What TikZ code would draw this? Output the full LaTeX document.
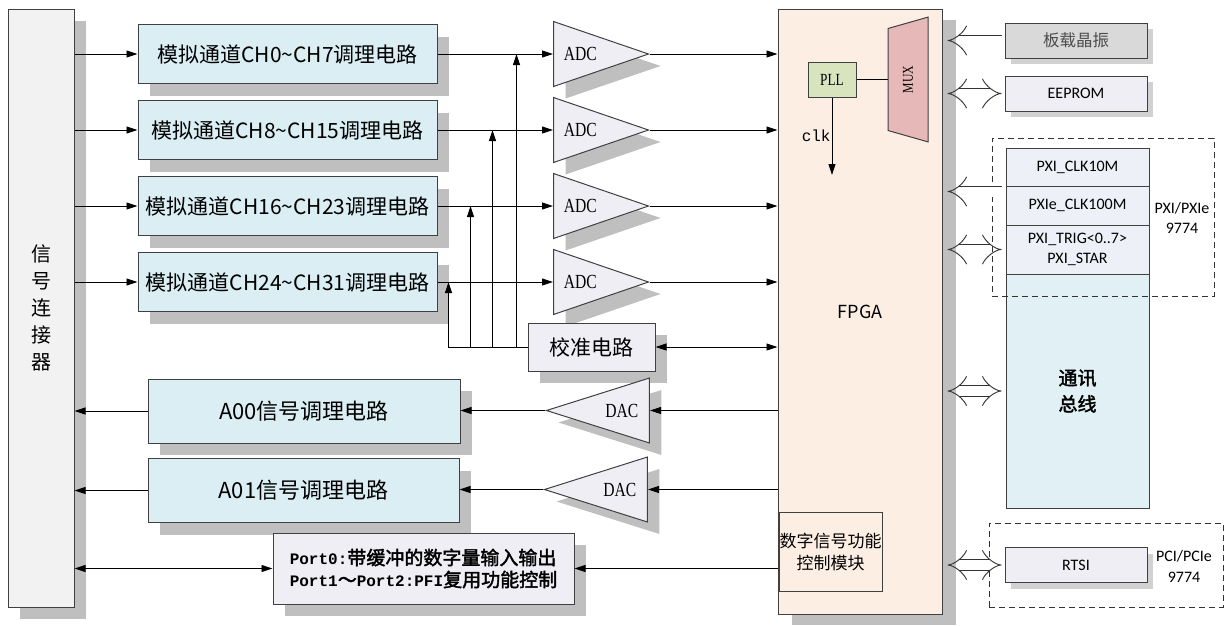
\documentclass[tikz,border=0pt]{standalone}
\usepackage{fontspec}
\setmainfont{Liberation Serif}
\newfontfamily\cjk{Noto Sans CJK SC}
\newfontfamily\cjkb[FakeBold=2]{Noto Sans CJK SC}
\newfontfamily\narrowserif[FakeStretch=0.78]{Liberation Serif}
\newfontfamily\calib{Carlito}
\newfontfamily\mono{Liberation Mono}
\usetikzlibrary{arrows.meta,shapes.geometric,shadows,positioning}
\definecolor{chblue}{HTML}{DAEEF3}
\definecolor{connfill}{HTML}{F2F2F2}
\definecolor{lav}{HTML}{F0EEF5}
\definecolor{fpgafill}{HTML}{FDEEE4}
\definecolor{pllfill}{HTML}{D7E4BD}
\definecolor{muxfill}{HTML}{E6B9B8}
\definecolor{oscfill}{HTML}{D9D9D9}
\definecolor{pxifill}{HTML}{EDF1F7}
\definecolor{busfill}{HTML}{E1F0F4}
\newcommand\fsz[1]{\fontsize{#1}{#1}\selectfont}

\begin{document}
\begin{tikzpicture}[
    x=1pt, y=-1pt,
    line width=0.9pt,
    >={Triangle[length=11pt,width=7pt]},
    block/.style={rectangle, draw=black!75, line width=1pt, inner sep=2pt, align=center},
    shad/.style={drop shadow={shadow xshift=12pt, shadow yshift=-12pt, fill=black!25, opacity=1}},
    smallshad/.style={drop shadow={shadow xshift=6pt, shadow yshift=-6pt, fill=black!18, opacity=1}},
    chan/.style={block, shad, fill=chblue, minimum width=299pt, minimum height=59pt, font=\cjk\fsz{21}},
    aout/.style={block, shad, fill=chblue, minimum height=64pt, font=\cjk\fsz{22}},
    conv/.style={isosceles triangle, isosceles triangle stretches, draw=black!75, line width=1pt,
      fill=lav, shad, minimum width=65pt, minimum height=95pt, inner sep=0pt, font=\narrowserif\fsz{20}},
    side/.style={block, minimum width=142pt, minimum height=35pt, font=\calib\fsz{16}},
    pxi/.style={block, fill=pxifill, minimum width=143pt, font=\calib\fontsize{16}{20}\selectfont},
    grp/.style={draw=black!80, dash pattern=on 6pt off 4pt, line width=0.9pt},
    hollow/.style={double, double distance=10pt, line width=0.9pt, draw=black!80}
  ]
  \useasboundingbox (0,0) rectangle (1224,625);

  % left side
  \node[block, shad, fill=connfill, minimum width=66pt, minimum height=598pt,
    font=\cjk\fontsize{20}{27}\selectfont] (conn) at (41,308) {信\\号\\连\\接\\器};
  \foreach \i/\y/\t in {1/54/CH0\textasciitilde CH7, 2/130/CH8\textasciitilde CH15,
      3/206/CH16\textasciitilde CH23, 4/282/CH24\textasciitilde CH31} {
    \node[chan] (ch\i) at (287.5,\y) {模拟通道\t 调理电路};
    \node[conv, anchor=west] (adc\i) at (553,\y) {ADC};
  }
  \node[block, shad, fill=lav, minimum width=127pt, minimum height=48pt, font=\cjk\fsz{21}] (cal) at (591.5,347) {校准电路};
  \node[aout, minimum width=312pt] (ao0) at (304,411) {A00信号调理电路};
  \node[aout, minimum width=311pt] (ao1) at (303.5,490.5) {A01信号调理电路};
  \node[conv, shape border rotate=180, minimum height=103pt, anchor=east] (dac1) at (650,410.5) {DAC};
  \node[conv, shape border rotate=180, minimum height=103pt, anchor=east] (dac2) at (648,489.5) {DAC};
  \node[block, shad, fill=lav, minimum width=301pt, minimum height=71pt, align=left,
    font=\fontsize{19}{22}\selectfont] (port) at (423.5,568.5)
    {{\mono\bfseries\fsz{16}Port0:}{\cjkb 带缓冲的数字量输入输出}\\
     {\mono\bfseries\fsz{16}Port1}{\cjkb ～}{\mono\bfseries\fsz{16}Port2:PFI}{\cjkb 复用功能控制}};

  % FPGA
  \node[block, fill=fpgafill, minimum width=164pt, minimum height=605pt, font=\cjk\fsz{18},
    drop shadow={shadow xshift=14pt, shadow yshift=-11pt, fill=black!25, opacity=1}] (fpga) at (860,311.5) {FPGA};
  \node[block, fill=pllfill, minimum width=48pt, minimum height=35pt, font=\narrowserif\fsz{17}] (pll) at (832,79.5) {PLL};
  \node[trapezium, trapezium stretches=true, draw=black!75, line width=1pt, fill=muxfill, rotate=90,
    minimum width=125pt, minimum height=40pt, trapezium left angle=73, trapezium right angle=73,
    inner sep=0pt, font=\narrowserif\fsz{15}] (mux) at (908,79.5) {MUX};
  \node[block, fill=fpgafill, inner sep=0pt, minimum width=103pt, minimum height=79pt,
    font=\cjk\fontsize{17}{22}\selectfont] (digctl) at (830.5,551.5) {数字信号功能\\控制模块};
  \coordinate (clkend) at (832,175);

  % right side
  \node[side, smallshad, fill=oscfill, font=\cjk\fsz{16.5}, text=black!70] (osc) at (1076,40.5) {板载晶振};
  \node[side, smallshad, fill=lav] (eeprom) at (1076,93.5) {EEPROM};
  \node[pxi, minimum height=38pt] (pxi1) at (1077.5,167) {PXI\_CLK10M};
  \node[pxi, minimum height=39pt] (pxi2) at (1077.5,205.5) {PXIe\_CLK100M};
  \node[pxi, minimum height=49pt] (pxi3) at (1077.5,249.5) {PXI\_TRIG\textless 0..7\textgreater\\PXI\_STAR};
  \node[block, fill=busfill, minimum width=143pt, minimum height=234pt,
    font=\cjkb\fontsize{19}{26}\selectfont] (bus) at (1077.5,391) {通讯\\总线};
  \node[grp, minimum width=222pt, minimum height=158pt] (grp1) at (1103,217) {};
  \node[font=\calib\fontsize{16}{20}\selectfont, align=center] (pxil) at (1182,218) {PXI/PXIe\\9774};
  \node[side, smallshad, fill=lav] (rtsi) at (1076,565) {RTSI};
  \node[grp, minimum width=234pt, minimum height=84pt] (grp2) at (1106,565) {};
  \node[font=\calib\fontsize{16}{21}\selectfont, align=center] (pcil) at (1184,566) {PCI/PCIe\\9774};
  \coordinate (clkin) at ([xshift=-4pt,yshift=-5pt]pxi1.south west);

  % analog inputs
  \foreach \i in {1,...,4} {
    \draw[->] (conn.east |- ch\i.west) -- (ch\i.west);
    \draw[->] (ch\i.east) -- (ch\i.east -| adc\i.west);
    \draw[->] (adc\i.apex) -- (adc\i.apex -| fpga.west);
  }
  \foreach \i/\d in {1/79,2/55,3/33,4/11}
    \draw[->] (cal.west) -| ([xshift=\d pt]ch\i.east);
  \draw[<->] (cal.east) -- (cal.east -| fpga.west);

  % analog outputs and digital
  \foreach \i/\a in {1/0,2/1} {
    \draw[->] (fpga.west |- dac\i.east) -- (dac\i.east);
    \draw[->] (dac\i.apex) -- (dac\i.apex -| ao\a.east);
    \draw[->] (ao\a.west) -- (ao\a.west -| conn.east);
  }
  \draw[<->] (port.west -| conn.east) -- (port.west);
  \draw[->] (port.east -| fpga.west) -- (port.east);

  % clock
  \draw (pll.east) -- (pll.east -| mux.north);
  \draw[->] (pll.south) -- node[left, inner sep=1pt, font=\mono\fsz{16}] (clk) {clk} (clkend);

  % buses to the right
  \draw[hollow, -{Implies[scale=0.75]}] ([xshift=-3pt]osc.west) -- ([xshift=5pt]fpga.east |- osc.west);
  \draw[hollow, {Implies[scale=0.75]}-{Implies[scale=0.75]}] ([xshift=5pt]fpga.east |- eeprom.west) -- ([xshift=-3pt]eeprom.west);
  \draw[hollow, -{Implies[scale=0.75]}] (clkin) -- ([xshift=5pt]fpga.east |- clkin);
  \draw[hollow, {Implies[scale=0.75]}-{Implies[scale=0.75]}] ([xshift=5pt]fpga.east |- pxi3.west) -- ([xshift=-4pt]pxi3.west);
  \draw[hollow, {Implies[scale=0.75]}-{Implies[scale=0.75]}] ([xshift=5pt]fpga.east |- bus.west) -- ([xshift=-4pt]bus.west);
  \draw[hollow, {Implies[scale=0.75]}-{Implies[scale=0.75]}] ([xshift=5pt]fpga.east |- rtsi.west) -- ([xshift=-3pt]rtsi.west);
\end{tikzpicture}
\end{document}
